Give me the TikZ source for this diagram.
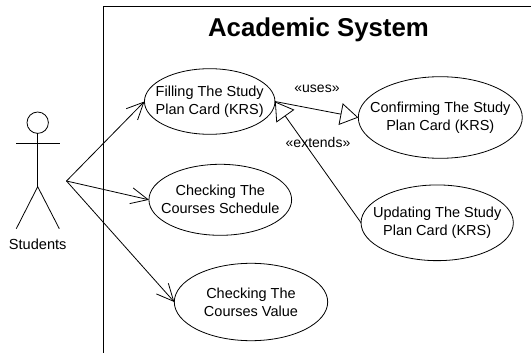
\documentclass[tikz,border=0pt]{standalone}
\usepackage{fontspec}
\setmainfont{Liberation Sans}
\usetikzlibrary{shapes.geometric,arrows.meta}
\tikzset{
  x=1pt,y=-1pt,
  usecase/.style={draw=black,ellipse,line width=0.8pt,inner sep=0pt,outer sep=0pt},
  uctext/.style={inner sep=0pt,align=center,font=\fontsize{14.5}{18}\selectfont},
  assoc/.style={draw=black,line width=0.8pt,-{Straight Barb[length=17pt,width=16pt,line width=0.8pt]}},
  generalise/.style={draw=black,line width=0.8pt,-{Triangle[open,length=18pt,width=22pt,line width=0.8pt,fill=white]}},
  actorline/.style={draw=black,line width=0.8pt},
  stereotype/.style={inner sep=0pt,font=\fontsize{14}{17}\selectfont},
}
\begin{document}
\begin{tikzpicture}
\useasboundingbox (0,0) rectangle (531,353);
\draw[line width=1pt] (103.5,353) -- (103.5,7) -- (531,7);
\node[inner sep=0pt,font=\bfseries\fontsize{25.8}{30}\selectfont] (title) at (318.5,30) {Academic System};

\node[usecase,minimum width=130.5pt,minimum height=65.6pt,label={[uctext]center:{Filling The Study\\Plan Card (KRS)}}] (e1) at (209.7,101.5) {};
\node[usecase,minimum width=142.7pt,minimum height=71pt,label={[uctext]center:{Checking The\\Courses Schedule}}] (e2) at (220.3,199.8) {};
\node[usecase,minimum width=153.4pt,minimum height=77.4pt,label={[uctext]center:{Checking The\\Courses Value}}] (e3) at (251,302) {};
\node[usecase,minimum width=164pt,minimum height=81.6pt,label={[uctext]center:{Confirming The Study\\Plan Card (KRS)}}] (e4) at (440.3,117.5) {};
\node[usecase,minimum width=152.3pt,minimum height=75.7pt,label={[uctext]center:{Updating The Study\\Plan Card (KRS)}}] (e5) at (437.2,222.8) {};

% actor
\node[draw=black,circle,line width=0.8pt,minimum size=21.4pt,inner sep=0pt,outer sep=0pt] (head) at (37.7,122.7) {};
\coordinate (hip) at (37.7,186.7);
\coordinate (armL) at (16,143.7);
\coordinate (armR) at (59.7,143.7);
\coordinate (legL) at (16.3,228.7);
\coordinate (legR) at (59.3,228.7);
\draw[actorline] (head.south) -- (hip);
\draw[actorline] (armL) -- (armR);
\draw[actorline] (legL) -- (hip) -- (legR);
\node[inner sep=0pt,font=\fontsize{14.6}{17}\selectfont] (students) at (37.7,244) {Students};

\coordinate (src) at (66.5,181);
\draw[assoc] (src) -- (e1.west);
\draw[assoc] (src) -- (e2.west);
\draw[assoc] (src) -- (e3.west);

\draw[generalise] (e1.east) -- (e4.west);
\draw[generalise] (e5.west) -- (e1.east);

\node[stereotype] (uses) at (317,89) {«uses»};
\node[stereotype] (extends) at (318,142) {«extends»};
\end{tikzpicture}
\end{document}
